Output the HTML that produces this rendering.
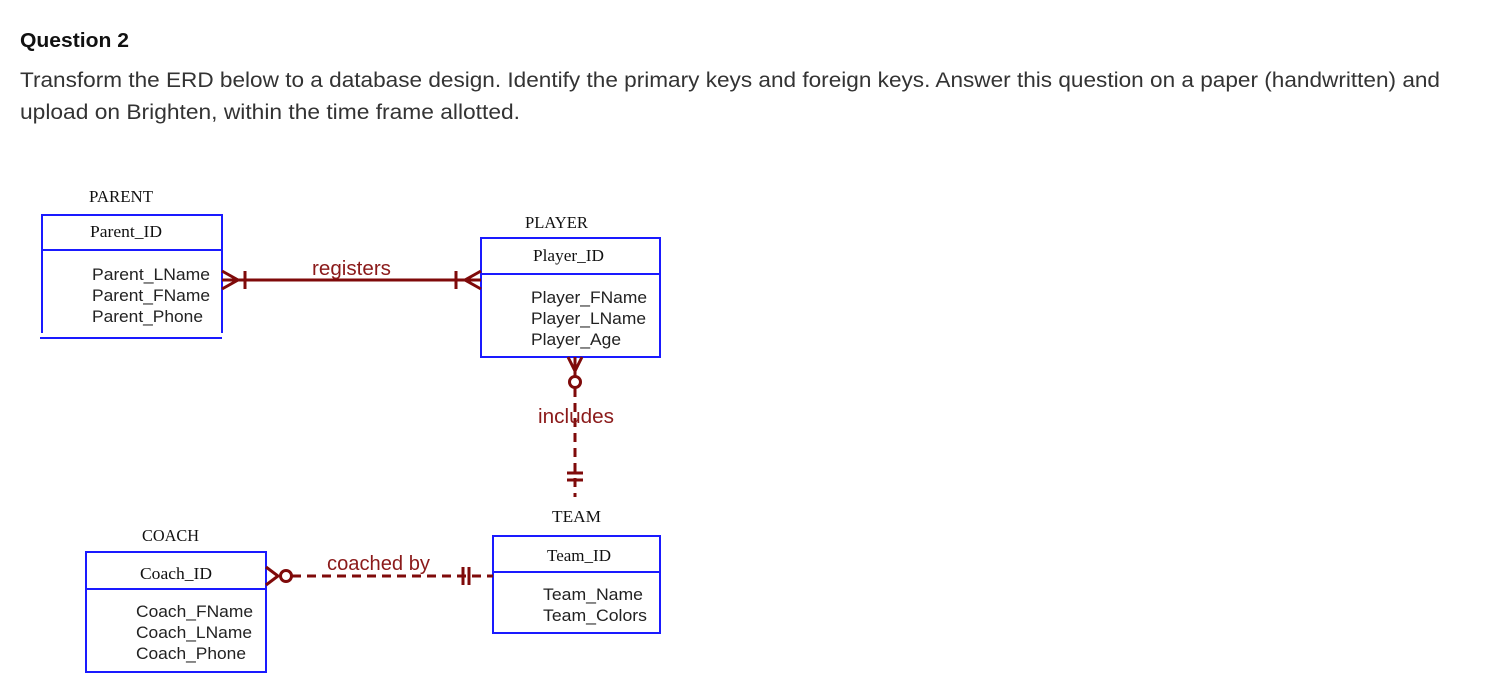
<!DOCTYPE html>
<html><head><meta charset="utf-8"><style>
body{margin:0;background:#fff;width:1491px;height:688px;overflow:hidden;font-family:"Liberation Sans",sans-serif}
</style></head><body>
<svg width="1491" height="688" xmlns="http://www.w3.org/2000/svg">
<text x="20" y="47" font-family="Liberation Sans,sans-serif" font-weight="bold" font-size="20" fill="#111" textLength="109" lengthAdjust="spacingAndGlyphs">Question 2</text>
<text x="20" y="87" font-family="Liberation Sans,sans-serif" font-size="21" fill="#333" textLength="1420" lengthAdjust="spacingAndGlyphs">Transform the ERD below to a database design. Identify the primary keys and foreign keys. Answer this question on a  paper (handwritten) and</text>
<text x="20" y="119" font-family="Liberation Sans,sans-serif" font-size="21" fill="#333" textLength="500" lengthAdjust="spacingAndGlyphs">upload on Brighten, within the time frame allotted.</text>

<g font-family="Liberation Serif,serif" font-size="16.5" fill="#111">
<text x="89" y="202" textLength="64" lengthAdjust="spacingAndGlyphs">PARENT</text>
<text x="90" y="237" textLength="72" lengthAdjust="spacingAndGlyphs">Parent_ID</text>
<text x="525" y="228" textLength="63" lengthAdjust="spacingAndGlyphs">PLAYER</text>
<text x="533" y="261" textLength="71" lengthAdjust="spacingAndGlyphs">Player_ID</text>
<text x="552" y="522" textLength="49" lengthAdjust="spacingAndGlyphs">TEAM</text>
<text x="547" y="561" textLength="64" lengthAdjust="spacingAndGlyphs">Team_ID</text>
<text x="142" y="541" textLength="57" lengthAdjust="spacingAndGlyphs">COACH</text>
<text x="140" y="579" textLength="72" lengthAdjust="spacingAndGlyphs">Coach_ID</text>
</g>
<g font-family="Liberation Sans,sans-serif" font-size="17" fill="#222">
<text x="92" y="280" textLength="118" lengthAdjust="spacingAndGlyphs">Parent_LName</text>
<text x="92" y="301" textLength="118" lengthAdjust="spacingAndGlyphs">Parent_FName</text>
<text x="92" y="322" textLength="111" lengthAdjust="spacingAndGlyphs">Parent_Phone</text>
<text x="531" y="303" textLength="116" lengthAdjust="spacingAndGlyphs">Player_FName</text>
<text x="531" y="324" textLength="115" lengthAdjust="spacingAndGlyphs">Player_LName</text>
<text x="531" y="345" textLength="90" lengthAdjust="spacingAndGlyphs">Player_Age</text>
<text x="543" y="600" textLength="100" lengthAdjust="spacingAndGlyphs">Team_Name</text>
<text x="543" y="621" textLength="104" lengthAdjust="spacingAndGlyphs">Team_Colors</text>
<text x="136" y="617" textLength="117" lengthAdjust="spacingAndGlyphs">Coach_FName</text>
<text x="136" y="638" textLength="116" lengthAdjust="spacingAndGlyphs">Coach_LName</text>
<text x="136" y="659" textLength="110" lengthAdjust="spacingAndGlyphs">Coach_Phone</text>
</g>
<g stroke="#1a1aff" stroke-width="2" fill="none">
<path d="M42 333V215H222V333M42 250H222M40 338H222"/>
<rect x="481" y="238" width="179" height="119"/><path d="M481 274H660"/>
<rect x="493" y="536" width="167" height="97"/><path d="M493 572H660"/>
<rect x="86" y="552" width="180" height="120"/><path d="M86 589H266"/>
</g>
<g stroke="#7f0a0a" stroke-width="3" fill="none">
<path d="M222 280H481"/>
<path d="M222 271L238 280L222 289M245 271V289"/>
<path d="M481 271L465 280L481 289M456 271V289"/>
<path d="M568 357L575 371L582 357M575 357V376"/>
<circle cx="575" cy="382" r="5.5"/>
<path d="M575 388V497" stroke-dasharray="9,6"/>
<path d="M567 473H583M567 480H583"/>
<path d="M266 567L278 576L266 585"/>
<circle cx="286" cy="576" r="5.5"/>
<path d="M292 576H493" stroke-dasharray="9,6"/>
<path d="M463 567V585M469 567V585"/>
</g>
<g font-family="Liberation Sans,sans-serif" font-size="20" fill="#8b1a1a">
<text x="312" y="275" textLength="79" lengthAdjust="spacingAndGlyphs">registers</text>
<text x="538" y="423" textLength="76" lengthAdjust="spacingAndGlyphs">includes</text>
<text x="327" y="570" textLength="103" lengthAdjust="spacingAndGlyphs">coached by</text>
</g>
</svg>
</body></html>
